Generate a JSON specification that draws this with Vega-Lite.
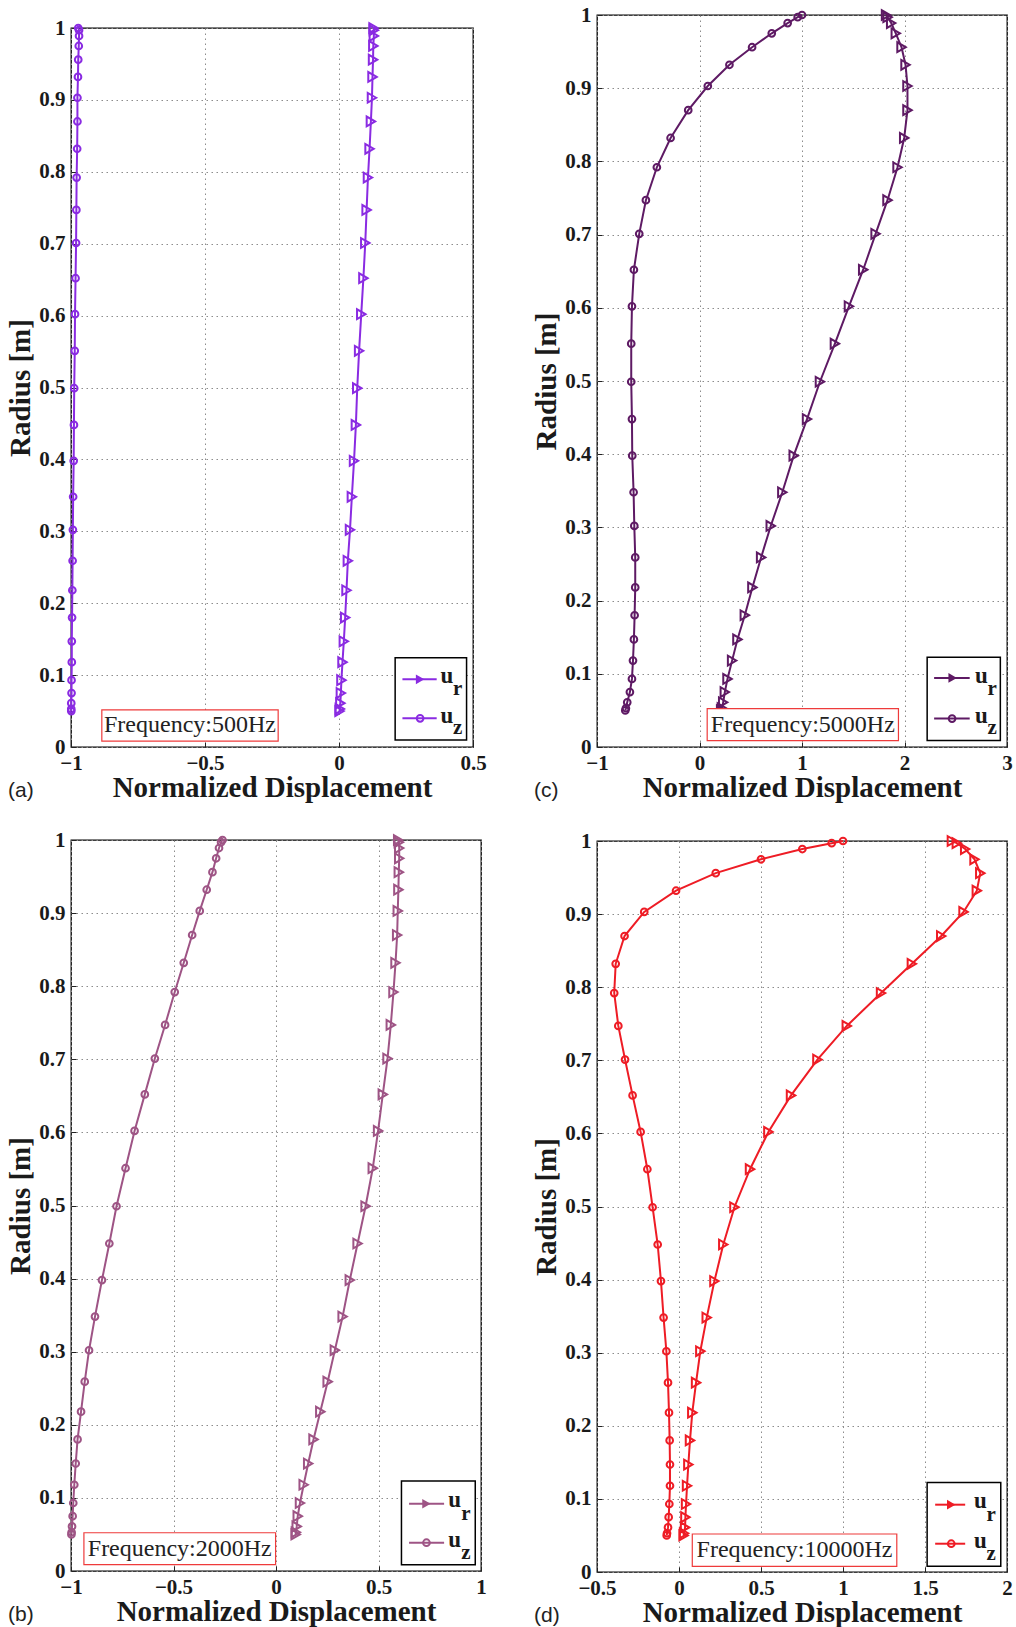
{
"$schema": "https://vega.github.io/schema/vega-lite/v6.json",
"background": "white",
"padding": {"left": 6, "top": 3, "right": 2, "bottom": 2},
"datasets": {
"f500": [
{"c":"ur","r":1,"v":0.129},{"c":"ur","r":0.997,"v":0.13},{"c":"ur","r":0.989,"v":0.13},{"c":"ur","r":0.975,"v":0.128},{"c":"ur","r":0.956,"v":0.127},{"c":"ur","r":0.932,"v":0.125},{"c":"ur","r":0.903,"v":0.123},{"c":"ur","r":0.87,"v":0.119},{"c":"ur","r":0.832,"v":0.114},{"c":"ur","r":0.792,"v":0.108},{"c":"ur","r":0.747,"v":0.103},{"c":"ur","r":0.701,"v":0.098},{"c":"ur","r":0.652,"v":0.091},{"c":"ur","r":0.602,"v":0.083},{"c":"ur","r":0.551,"v":0.075},{"c":"ur","r":0.499,"v":0.068},{"c":"ur","r":0.448,"v":0.063},{"c":"ur","r":0.398,"v":0.056},{"c":"ur","r":0.348,"v":0.048},{"c":"ur","r":0.302,"v":0.041},{"c":"ur","r":0.259,"v":0.033},{"c":"ur","r":0.218,"v":0.028},{"c":"ur","r":0.18,"v":0.023},{"c":"ur","r":0.147,"v":0.018},{"c":"ur","r":0.118,"v":0.013},{"c":"ur","r":0.093,"v":0.009},{"c":"ur","r":0.075,"v":0.007},{"c":"ur","r":0.061,"v":0.005},{"c":"ur","r":0.053,"v":0.003},{"c":"ur","r":0.05,"v":0.002},
{"c":"uz","r":1,"v":-0.973},{"c":"uz","r":0.997,"v":-0.97},{"c":"uz","r":0.989,"v":-0.97},{"c":"uz","r":0.975,"v":-0.971},{"c":"uz","r":0.956,"v":-0.973},{"c":"uz","r":0.932,"v":-0.974},{"c":"uz","r":0.903,"v":-0.976},{"c":"uz","r":0.87,"v":-0.976},{"c":"uz","r":0.832,"v":-0.977},{"c":"uz","r":0.792,"v":-0.979},{"c":"uz","r":0.747,"v":-0.98},{"c":"uz","r":0.701,"v":-0.981},{"c":"uz","r":0.652,"v":-0.983},{"c":"uz","r":0.602,"v":-0.985},{"c":"uz","r":0.551,"v":-0.986},{"c":"uz","r":0.499,"v":-0.988},{"c":"uz","r":0.448,"v":-0.989},{"c":"uz","r":0.398,"v":-0.99},{"c":"uz","r":0.348,"v":-0.992},{"c":"uz","r":0.302,"v":-0.993},{"c":"uz","r":0.259,"v":-0.994},{"c":"uz","r":0.218,"v":-0.995},{"c":"uz","r":0.18,"v":-0.996},{"c":"uz","r":0.147,"v":-0.997},{"c":"uz","r":0.118,"v":-0.997},{"c":"uz","r":0.093,"v":-0.998},{"c":"uz","r":0.075,"v":-0.998},{"c":"uz","r":0.061,"v":-0.999},{"c":"uz","r":0.053,"v":-0.999},{"c":"uz","r":0.05,"v":-0.999}
],
"f2000": [
{"c":"ur","r":1,"v":0.596},{"c":"ur","r":0.997,"v":0.599},{"c":"ur","r":0.989,"v":0.601},{"c":"ur","r":0.975,"v":0.601},{"c":"ur","r":0.956,"v":0.599},{"c":"ur","r":0.932,"v":0.597},{"c":"ur","r":0.903,"v":0.594},{"c":"ur","r":0.87,"v":0.591},{"c":"ur","r":0.832,"v":0.583},{"c":"ur","r":0.792,"v":0.573},{"c":"ur","r":0.747,"v":0.56},{"c":"ur","r":0.701,"v":0.544},{"c":"ur","r":0.652,"v":0.521},{"c":"ur","r":0.602,"v":0.498},{"c":"ur","r":0.551,"v":0.472},{"c":"ur","r":0.499,"v":0.437},{"c":"ur","r":0.448,"v":0.398},{"c":"ur","r":0.398,"v":0.36},{"c":"ur","r":0.348,"v":0.325},{"c":"ur","r":0.302,"v":0.287},{"c":"ur","r":0.259,"v":0.252},{"c":"ur","r":0.218,"v":0.216},{"c":"ur","r":0.18,"v":0.183},{"c":"ur","r":0.147,"v":0.157},{"c":"ur","r":0.118,"v":0.135},{"c":"ur","r":0.093,"v":0.117},{"c":"ur","r":0.075,"v":0.106},{"c":"ur","r":0.061,"v":0.101},{"c":"ur","r":0.053,"v":0.097},{"c":"ur","r":0.05,"v":0.096},
{"c":"uz","r":1,"v":-0.261},{"c":"uz","r":0.997,"v":-0.268},{"c":"uz","r":0.989,"v":-0.278},{"c":"uz","r":0.975,"v":-0.292},{"c":"uz","r":0.956,"v":-0.31},{"c":"uz","r":0.932,"v":-0.338},{"c":"uz","r":0.903,"v":-0.372},{"c":"uz","r":0.87,"v":-0.409},{"c":"uz","r":0.832,"v":-0.45},{"c":"uz","r":0.792,"v":-0.494},{"c":"uz","r":0.747,"v":-0.541},{"c":"uz","r":0.701,"v":-0.591},{"c":"uz","r":0.652,"v":-0.64},{"c":"uz","r":0.602,"v":-0.69},{"c":"uz","r":0.551,"v":-0.734},{"c":"uz","r":0.499,"v":-0.778},{"c":"uz","r":0.448,"v":-0.813},{"c":"uz","r":0.398,"v":-0.849},{"c":"uz","r":0.348,"v":-0.883},{"c":"uz","r":0.302,"v":-0.912},{"c":"uz","r":0.259,"v":-0.933},{"c":"uz","r":0.218,"v":-0.951},{"c":"uz","r":0.18,"v":-0.968},{"c":"uz","r":0.147,"v":-0.977},{"c":"uz","r":0.118,"v":-0.984},{"c":"uz","r":0.093,"v":-0.989},{"c":"uz","r":0.075,"v":-0.992},{"c":"uz","r":0.061,"v":-0.995},{"c":"uz","r":0.053,"v":-0.997},{"c":"uz","r":0.05,"v":-0.998}
],
"f5000": [
{"c":"ur","r":1,"v":1.82},{"c":"ur","r":0.997,"v":1.835},{"c":"ur","r":0.989,"v":1.87},{"c":"ur","r":0.975,"v":1.915},{"c":"ur","r":0.956,"v":1.971},{"c":"ur","r":0.932,"v":2.01},{"c":"ur","r":0.903,"v":2.029},{"c":"ur","r":0.87,"v":2.029},{"c":"ur","r":0.832,"v":1.997},{"c":"ur","r":0.792,"v":1.932},{"c":"ur","r":0.747,"v":1.834},{"c":"ur","r":0.701,"v":1.718},{"c":"ur","r":0.652,"v":1.597},{"c":"ur","r":0.602,"v":1.458},{"c":"ur","r":0.551,"v":1.321},{"c":"ur","r":0.499,"v":1.175},{"c":"ur","r":0.448,"v":1.049},{"c":"ur","r":0.398,"v":0.919},{"c":"ur","r":0.348,"v":0.808},{"c":"ur","r":0.302,"v":0.695},{"c":"ur","r":0.259,"v":0.601},{"c":"ur","r":0.218,"v":0.516},{"c":"ur","r":0.18,"v":0.442},{"c":"ur","r":0.147,"v":0.37},{"c":"ur","r":0.118,"v":0.318},{"c":"ur","r":0.093,"v":0.273},{"c":"ur","r":0.075,"v":0.247},{"c":"ur","r":0.061,"v":0.231},{"c":"ur","r":0.053,"v":0.218},{"c":"ur","r":0.05,"v":0.211},
{"c":"uz","r":1,"v":1},{"c":"uz","r":0.997,"v":0.958},{"c":"uz","r":0.989,"v":0.86},{"c":"uz","r":0.975,"v":0.705},{"c":"uz","r":0.956,"v":0.513},{"c":"uz","r":0.932,"v":0.292},{"c":"uz","r":0.903,"v":0.081},{"c":"uz","r":0.87,"v":-0.11},{"c":"uz","r":0.832,"v":-0.282},{"c":"uz","r":0.792,"v":-0.416},{"c":"uz","r":0.747,"v":-0.523},{"c":"uz","r":0.701,"v":-0.588},{"c":"uz","r":0.652,"v":-0.64},{"c":"uz","r":0.602,"v":-0.659},{"c":"uz","r":0.551,"v":-0.666},{"c":"uz","r":0.499,"v":-0.666},{"c":"uz","r":0.448,"v":-0.659},{"c":"uz","r":0.398,"v":-0.656},{"c":"uz","r":0.348,"v":-0.643},{"c":"uz","r":0.302,"v":-0.636},{"c":"uz","r":0.259,"v":-0.627},{"c":"uz","r":0.218,"v":-0.627},{"c":"uz","r":0.18,"v":-0.633},{"c":"uz","r":0.147,"v":-0.64},{"c":"uz","r":0.118,"v":-0.649},{"c":"uz","r":0.093,"v":-0.659},{"c":"uz","r":0.075,"v":-0.679},{"c":"uz","r":0.061,"v":-0.705},{"c":"uz","r":0.053,"v":-0.718},{"c":"uz","r":0.05,"v":-0.724}
],
"f10000": [
{"c":"ur","r":1,"v":1.664},{"c":"ur","r":0.997,"v":1.694},{"c":"ur","r":0.989,"v":1.745},{"c":"ur","r":0.975,"v":1.802},{"c":"ur","r":0.956,"v":1.837},{"c":"ur","r":0.932,"v":1.816},{"c":"ur","r":0.903,"v":1.735},{"c":"ur","r":0.87,"v":1.599},{"c":"ur","r":0.832,"v":1.42},{"c":"ur","r":0.792,"v":1.232},{"c":"ur","r":0.747,"v":1.023},{"c":"ur","r":0.701,"v":0.844},{"c":"ur","r":0.652,"v":0.683},{"c":"ur","r":0.602,"v":0.545},{"c":"ur","r":0.551,"v":0.433},{"c":"ur","r":0.499,"v":0.338},{"c":"ur","r":0.448,"v":0.27},{"c":"ur","r":0.398,"v":0.216},{"c":"ur","r":0.348,"v":0.169},{"c":"ur","r":0.302,"v":0.13},{"c":"ur","r":0.259,"v":0.104},{"c":"ur","r":0.218,"v":0.081},{"c":"ur","r":0.18,"v":0.067},{"c":"ur","r":0.147,"v":0.057},{"c":"ur","r":0.118,"v":0.049},{"c":"ur","r":0.093,"v":0.043},{"c":"ur","r":0.075,"v":0.039},{"c":"ur","r":0.061,"v":0.037},{"c":"ur","r":0.053,"v":0.031},{"c":"ur","r":0.05,"v":0.028},
{"c":"uz","r":1,"v":1},{"c":"uz","r":0.997,"v":0.931},{"c":"uz","r":0.989,"v":0.752},{"c":"uz","r":0.975,"v":0.5},{"c":"uz","r":0.956,"v":0.224},{"c":"uz","r":0.932,"v":-0.018},{"c":"uz","r":0.903,"v":-0.212},{"c":"uz","r":0.87,"v":-0.332},{"c":"uz","r":0.832,"v":-0.386},{"c":"uz","r":0.792,"v":-0.395},{"c":"uz","r":0.747,"v":-0.37},{"c":"uz","r":0.701,"v":-0.329},{"c":"uz","r":0.652,"v":-0.283},{"c":"uz","r":0.602,"v":-0.234},{"c":"uz","r":0.551,"v":-0.193},{"c":"uz","r":0.499,"v":-0.161},{"c":"uz","r":0.448,"v":-0.13},{"c":"uz","r":0.398,"v":-0.11},{"c":"uz","r":0.348,"v":-0.094},{"c":"uz","r":0.302,"v":-0.077},{"c":"uz","r":0.259,"v":-0.067},{"c":"uz","r":0.218,"v":-0.061},{"c":"uz","r":0.18,"v":-0.057},{"c":"uz","r":0.147,"v":-0.055},{"c":"uz","r":0.118,"v":-0.055},{"c":"uz","r":0.093,"v":-0.059},{"c":"uz","r":0.075,"v":-0.063},{"c":"uz","r":0.061,"v":-0.067},{"c":"uz","r":0.053,"v":-0.073},{"c":"uz","r":0.05,"v":-0.075}
]
},
"spacing": 45,
"hconcat": [
{"spacing": 0, "vconcat": [
{"width": 402, "height": 1, "view": {"stroke": null}, "data": {"values": []}, "mark": "point"},
{"spacing": 25, "vconcat": [
{
"width": 402, "height": 719,
"data": {"values": [{"freq": "Frequency:500Hz", "tag": "(a)"}]},
"layer": [
{"data": {"name": "f500"}, "mark": {"type": "line", "color": "#8a2be2", "strokeWidth": 2},
 "encoding": {
  "x": {"field": "v", "type": "quantitative", "scale": {"domain": [-1, 0.5], "nice": false, "zero": false}, "axis": {"values": [-1, -0.5, 0, 0.5], "title": "Normalized Displacement"}},
  "y": {"field": "r", "type": "quantitative", "scale": {"domain": [0, 1], "nice": false}, "axis": {"values": [0, 0.1, 0.2, 0.3, 0.4, 0.5, 0.6, 0.7, 0.8, 0.9, 1], "title": "Radius [m]"}},
  "detail": {"field": "c"},
  "order": {"field": "r", "type": "quantitative"}}},
{"data": {"name": "f500"}, "transform": [{"filter": "datum.c === 'ur'"}], "mark": {"type": "point", "shape": "triangle-right", "filled": false, "color": "#8a2be2", "strokeWidth": 2, "size": 95, "opacity": 1},
 "encoding": {"x": {"field": "v", "type": "quantitative"}, "y": {"field": "r", "type": "quantitative"}}},
{"data": {"name": "f500"}, "transform": [{"filter": "datum.c === 'uz'"}], "mark": {"type": "point", "shape": "circle", "filled": false, "color": "#8a2be2", "strokeWidth": 2, "size": 45, "opacity": 1},
 "encoding": {"x": {"field": "v", "type": "quantitative"}, "y": {"field": "r", "type": "quantitative"}}},
{"mark": {"type": "rect", "fill": "white", "stroke": "#ee3b3b", "strokeWidth": 1.2},
 "encoding": {"x": {"datum": -0.885, "type": "quantitative"}, "x2": {"datum": -0.227}, "y": {"datum": 0.0515, "type": "quantitative"}, "y2": {"datum": 0.0083}}},
{"mark": {"type": "text", "font": "Liberation Serif", "fontSize": 24, "color": "#222"},
 "encoding": {"x": {"datum": -0.556, "type": "quantitative"}, "y": {"datum": 0.03, "type": "quantitative"}, "text": {"field": "freq"}}},
{"mark": {"type": "rect", "fill": "white", "stroke": "#000", "strokeWidth": 1.5},
 "encoding": {"x": {"datum": 0.2095, "type": "quantitative"}, "x2": {"datum": 0.476}, "y": {"datum": 0.124, "type": "quantitative"}, "y2": {"datum": 0.0097}}},
{"mark": {"type": "rule", "color": "#8a2be2", "strokeWidth": 2},
 "encoding": {"x": {"datum": 0.2367, "type": "quantitative"}, "x2": {"datum": 0.3645}, "y": {"datum": 0.0942, "type": "quantitative"}}},
{"mark": {"type": "rule", "color": "#8a2be2", "strokeWidth": 2},
 "encoding": {"x": {"datum": 0.2367, "type": "quantitative"}, "x2": {"datum": 0.3645}, "y": {"datum": 0.0399, "type": "quantitative"}}},
{"mark": {"type": "point", "shape": "triangle-right", "filled": true, "color": "#8a2be2", "size": 95, "opacity": 1},
 "encoding": {"x": {"datum": 0.3026, "type": "quantitative"}, "y": {"datum": 0.0942, "type": "quantitative"}}},
{"mark": {"type": "point", "shape": "circle", "filled": false, "color": "#8a2be2", "strokeWidth": 2, "size": 45, "opacity": 1},
 "encoding": {"x": {"datum": 0.3026, "type": "quantitative"}, "y": {"datum": 0.0399, "type": "quantitative"}}},
{"mark": {"type": "text", "font": "Liberation Serif", "fontWeight": "bold", "fontSize": 23, "baseline": "alphabetic", "color": "#1a1a1a"},
 "encoding": {"x": {"datum": 0.403, "type": "quantitative"}, "y": {"datum": 0.0894, "type": "quantitative"}, "text": {"value": "u"}}},
{"mark": {"type": "text", "font": "Liberation Serif", "fontWeight": "bold", "fontSize": 23, "baseline": "alphabetic", "color": "#1a1a1a"},
 "encoding": {"x": {"datum": 0.403, "type": "quantitative"}, "y": {"datum": 0.0338, "type": "quantitative"}, "text": {"value": "u"}}},
{"mark": {"type": "text", "font": "Liberation Serif", "fontWeight": "bold", "fontSize": 21, "baseline": "alphabetic", "color": "#1a1a1a"},
 "encoding": {"x": {"datum": 0.4425, "type": "quantitative"}, "y": {"datum": 0.0723, "type": "quantitative"}, "text": {"value": "r"}}},
{"mark": {"type": "text", "font": "Liberation Serif", "fontWeight": "bold", "fontSize": 21, "baseline": "alphabetic", "color": "#1a1a1a"},
 "encoding": {"x": {"datum": 0.4425, "type": "quantitative"}, "y": {"datum": 0.0177, "type": "quantitative"}, "text": {"value": "z"}}},
{"mark": {"type": "text", "font": "Liberation Sans", "fontSize": 21, "color": "#222", "align": "left", "baseline": "middle", "dx": -63, "dy": 44},
 "encoding": {"x": {"datum": -1, "type": "quantitative"}, "y": {"datum": 0, "type": "quantitative"}, "text": {"field": "tag"}}}
]
},
{
"width": 410, "height": 731,
"data": {"values": [{"freq": "Frequency:2000Hz", "tag": "(b)"}]},
"layer": [
{"data": {"name": "f2000"}, "mark": {"type": "line", "color": "#9e5485", "strokeWidth": 2},
 "encoding": {
  "x": {"field": "v", "type": "quantitative", "scale": {"domain": [-1, 1], "nice": false, "zero": false}, "axis": {"values": [-1, -0.5, 0, 0.5, 1], "title": "Normalized Displacement"}},
  "y": {"field": "r", "type": "quantitative", "scale": {"domain": [0, 1], "nice": false}, "axis": {"values": [0, 0.1, 0.2, 0.3, 0.4, 0.5, 0.6, 0.7, 0.8, 0.9, 1], "title": "Radius [m]"}},
  "detail": {"field": "c"},
  "order": {"field": "r", "type": "quantitative"}}},
{"data": {"name": "f2000"}, "transform": [{"filter": "datum.c === 'ur'"}], "mark": {"type": "point", "shape": "triangle-right", "filled": false, "color": "#9e5485", "strokeWidth": 2, "size": 95, "opacity": 1},
 "encoding": {"x": {"field": "v", "type": "quantitative"}, "y": {"field": "r", "type": "quantitative"}}},
{"data": {"name": "f2000"}, "transform": [{"filter": "datum.c === 'uz'"}], "mark": {"type": "point", "shape": "circle", "filled": false, "color": "#9e5485", "strokeWidth": 2, "size": 45, "opacity": 1},
 "encoding": {"x": {"field": "v", "type": "quantitative"}, "y": {"field": "r", "type": "quantitative"}}},
{"mark": {"type": "rect", "fill": "white", "stroke": "#ee3b3b", "strokeWidth": 1.2},
 "encoding": {"x": {"datum": -0.937, "type": "quantitative"}, "x2": {"datum": -0.002}, "y": {"datum": 0.0523, "type": "quantitative"}, "y2": {"datum": 0.0086}}},
{"mark": {"type": "text", "font": "Liberation Serif", "fontSize": 24, "color": "#222"},
 "encoding": {"x": {"datum": -0.4695, "type": "quantitative"}, "y": {"datum": 0.0305, "type": "quantitative"}, "text": {"field": "freq"}}},
{"mark": {"type": "rect", "fill": "white", "stroke": "#000", "strokeWidth": 1.5},
 "encoding": {"x": {"datum": 0.612, "type": "quantitative"}, "x2": {"datum": 0.972}, "y": {"datum": 0.123, "type": "quantitative"}, "y2": {"datum": 0.0086}}},
{"mark": {"type": "rule", "color": "#9e5485", "strokeWidth": 2},
 "encoding": {"x": {"datum": 0.649, "type": "quantitative"}, "x2": {"datum": 0.82}, "y": {"datum": 0.092, "type": "quantitative"}}},
{"mark": {"type": "rule", "color": "#9e5485", "strokeWidth": 2},
 "encoding": {"x": {"datum": 0.649, "type": "quantitative"}, "x2": {"datum": 0.82}, "y": {"datum": 0.0387, "type": "quantitative"}}},
{"mark": {"type": "point", "shape": "triangle-right", "filled": true, "color": "#9e5485", "size": 95, "opacity": 1},
 "encoding": {"x": {"datum": 0.734, "type": "quantitative"}, "y": {"datum": 0.092, "type": "quantitative"}}},
{"mark": {"type": "point", "shape": "circle", "filled": false, "color": "#9e5485", "strokeWidth": 2, "size": 45, "opacity": 1},
 "encoding": {"x": {"datum": 0.734, "type": "quantitative"}, "y": {"datum": 0.0387, "type": "quantitative"}}},
{"mark": {"type": "text", "font": "Liberation Serif", "fontWeight": "bold", "fontSize": 23, "baseline": "alphabetic", "color": "#1a1a1a"},
 "encoding": {"x": {"datum": 0.872, "type": "quantitative"}, "y": {"datum": 0.0875, "type": "quantitative"}, "text": {"value": "u"}}},
{"mark": {"type": "text", "font": "Liberation Serif", "fontWeight": "bold", "fontSize": 23, "baseline": "alphabetic", "color": "#1a1a1a"},
 "encoding": {"x": {"datum": 0.872, "type": "quantitative"}, "y": {"datum": 0.0328, "type": "quantitative"}, "text": {"value": "u"}}},
{"mark": {"type": "text", "font": "Liberation Serif", "fontWeight": "bold", "fontSize": 21, "baseline": "alphabetic", "color": "#1a1a1a"},
 "encoding": {"x": {"datum": 0.926, "type": "quantitative"}, "y": {"datum": 0.07, "type": "quantitative"}, "text": {"value": "r"}}},
{"mark": {"type": "text", "font": "Liberation Serif", "fontWeight": "bold", "fontSize": 21, "baseline": "alphabetic", "color": "#1a1a1a"},
 "encoding": {"x": {"datum": 0.926, "type": "quantitative"}, "y": {"datum": 0.0168, "type": "quantitative"}, "text": {"value": "z"}}},
{"mark": {"type": "text", "font": "Liberation Sans", "fontSize": 21, "color": "#222", "align": "left", "baseline": "middle", "dx": -63, "dy": 44},
 "encoding": {"x": {"datum": -1, "type": "quantitative"}, "y": {"datum": 0, "type": "quantitative"}, "text": {"field": "tag"}}}
]
}
]}
]},
{"spacing": 26, "vconcat": [
{
"width": 410, "height": 732,
"data": {"values": [{"freq": "Frequency:5000Hz", "tag": "(c)"}]},
"layer": [
{"data": {"name": "f5000"}, "mark": {"type": "line", "color": "#5e1a64", "strokeWidth": 2},
 "encoding": {
  "x": {"field": "v", "type": "quantitative", "scale": {"domain": [-1, 3], "nice": false, "zero": false}, "axis": {"values": [-1, 0, 1, 2, 3], "title": "Normalized Displacement"}},
  "y": {"field": "r", "type": "quantitative", "scale": {"domain": [0, 1], "nice": false}, "axis": {"values": [0, 0.1, 0.2, 0.3, 0.4, 0.5, 0.6, 0.7, 0.8, 0.9, 1], "title": "Radius [m]"}},
  "detail": {"field": "c"},
  "order": {"field": "r", "type": "quantitative"}}},
{"data": {"name": "f5000"}, "transform": [{"filter": "datum.c === 'ur'"}], "mark": {"type": "point", "shape": "triangle-right", "filled": false, "color": "#5e1a64", "strokeWidth": 2, "size": 95, "opacity": 1},
 "encoding": {"x": {"field": "v", "type": "quantitative"}, "y": {"field": "r", "type": "quantitative"}}},
{"data": {"name": "f5000"}, "transform": [{"filter": "datum.c === 'uz'"}], "mark": {"type": "point", "shape": "circle", "filled": false, "color": "#5e1a64", "strokeWidth": 2, "size": 45, "opacity": 1},
 "encoding": {"x": {"field": "v", "type": "quantitative"}, "y": {"field": "r", "type": "quantitative"}}},
{"mark": {"type": "rect", "fill": "white", "stroke": "#ee3b3b", "strokeWidth": 1.2},
 "encoding": {"x": {"datum": 0.075, "type": "quantitative"}, "x2": {"datum": 1.941}, "y": {"datum": 0.0525, "type": "quantitative"}, "y2": {"datum": 0.0088}}},
{"mark": {"type": "text", "font": "Liberation Serif", "fontSize": 24, "color": "#222"},
 "encoding": {"x": {"datum": 1.008, "type": "quantitative"}, "y": {"datum": 0.0307, "type": "quantitative"}, "text": {"field": "freq"}}},
{"mark": {"type": "rect", "fill": "white", "stroke": "#000", "strokeWidth": 1.5},
 "encoding": {"x": {"datum": 2.221, "type": "quantitative"}, "x2": {"datum": 2.935}, "y": {"datum": 0.1226, "type": "quantitative"}, "y2": {"datum": 0.0088}}},
{"mark": {"type": "rule", "color": "#5e1a64", "strokeWidth": 2},
 "encoding": {"x": {"datum": 2.289, "type": "quantitative"}, "x2": {"datum": 2.636}, "y": {"datum": 0.0944, "type": "quantitative"}}},
{"mark": {"type": "rule", "color": "#5e1a64", "strokeWidth": 2},
 "encoding": {"x": {"datum": 2.289, "type": "quantitative"}, "x2": {"datum": 2.636}, "y": {"datum": 0.0388, "type": "quantitative"}}},
{"mark": {"type": "point", "shape": "triangle-right", "filled": true, "color": "#5e1a64", "size": 95, "opacity": 1},
 "encoding": {"x": {"datum": 2.47, "type": "quantitative"}, "y": {"datum": 0.0944, "type": "quantitative"}}},
{"mark": {"type": "point", "shape": "circle", "filled": false, "color": "#5e1a64", "strokeWidth": 2, "size": 45, "opacity": 1},
 "encoding": {"x": {"datum": 2.464, "type": "quantitative"}, "y": {"datum": 0.0388, "type": "quantitative"}}},
{"mark": {"type": "text", "font": "Liberation Serif", "fontWeight": "bold", "fontSize": 23, "baseline": "alphabetic", "color": "#1a1a1a"},
 "encoding": {"x": {"datum": 2.75, "type": "quantitative"}, "y": {"datum": 0.0875, "type": "quantitative"}, "text": {"value": "u"}}},
{"mark": {"type": "text", "font": "Liberation Serif", "fontWeight": "bold", "fontSize": 23, "baseline": "alphabetic", "color": "#1a1a1a"},
 "encoding": {"x": {"datum": 2.75, "type": "quantitative"}, "y": {"datum": 0.0328, "type": "quantitative"}, "text": {"value": "u"}}},
{"mark": {"type": "text", "font": "Liberation Serif", "fontWeight": "bold", "fontSize": 21, "baseline": "alphabetic", "color": "#1a1a1a"},
 "encoding": {"x": {"datum": 2.854, "type": "quantitative"}, "y": {"datum": 0.0717, "type": "quantitative"}, "text": {"value": "r"}}},
{"mark": {"type": "text", "font": "Liberation Serif", "fontWeight": "bold", "fontSize": 21, "baseline": "alphabetic", "color": "#1a1a1a"},
 "encoding": {"x": {"datum": 2.854, "type": "quantitative"}, "y": {"datum": 0.0178, "type": "quantitative"}, "text": {"value": "z"}}},
{"mark": {"type": "text", "font": "Liberation Sans", "fontSize": 21, "color": "#222", "align": "left", "baseline": "middle", "dx": -63, "dy": 44},
 "encoding": {"x": {"datum": -1, "type": "quantitative"}, "y": {"datum": 0, "type": "quantitative"}, "text": {"field": "tag"}}}
]
},
{
"width": 410, "height": 731,
"data": {"values": [{"freq": "Frequency:10000Hz", "tag": "(d)"}]},
"layer": [
{"data": {"name": "f10000"}, "mark": {"type": "line", "color": "#ee1c25", "strokeWidth": 2},
 "encoding": {
  "x": {"field": "v", "type": "quantitative", "scale": {"domain": [-0.5, 2], "nice": false, "zero": false}, "axis": {"values": [-0.5, 0, 0.5, 1, 1.5, 2], "title": "Normalized Displacement"}},
  "y": {"field": "r", "type": "quantitative", "scale": {"domain": [0, 1], "nice": false}, "axis": {"values": [0, 0.1, 0.2, 0.3, 0.4, 0.5, 0.6, 0.7, 0.8, 0.9, 1], "title": "Radius [m]"}},
  "detail": {"field": "c"},
  "order": {"field": "r", "type": "quantitative"}}},
{"data": {"name": "f10000"}, "transform": [{"filter": "datum.c === 'ur'"}], "mark": {"type": "point", "shape": "triangle-right", "filled": false, "color": "#ee1c25", "strokeWidth": 2, "size": 95, "opacity": 1},
 "encoding": {"x": {"field": "v", "type": "quantitative"}, "y": {"field": "r", "type": "quantitative"}}},
{"data": {"name": "f10000"}, "transform": [{"filter": "datum.c === 'uz'"}], "mark": {"type": "point", "shape": "circle", "filled": false, "color": "#ee1c25", "strokeWidth": 2, "size": 45, "opacity": 1},
 "encoding": {"x": {"field": "v", "type": "quantitative"}, "y": {"field": "r", "type": "quantitative"}}},
{"mark": {"type": "rect", "fill": "white", "stroke": "#ee3b3b", "strokeWidth": 1.2},
 "encoding": {"x": {"datum": 0.081, "type": "quantitative"}, "x2": {"datum": 1.328}, "y": {"datum": 0.052, "type": "quantitative"}, "y2": {"datum": 0.0077}}},
{"mark": {"type": "text", "font": "Liberation Serif", "fontSize": 24, "color": "#222"},
 "encoding": {"x": {"datum": 0.7045, "type": "quantitative"}, "y": {"datum": 0.03, "type": "quantitative"}, "text": {"field": "freq"}}},
{"mark": {"type": "rect", "fill": "white", "stroke": "#000", "strokeWidth": 1.5},
 "encoding": {"x": {"datum": 1.513, "type": "quantitative"}, "x2": {"datum": 1.962}, "y": {"datum": 0.1226, "type": "quantitative"}, "y2": {"datum": 0.0077}}},
{"mark": {"type": "rule", "color": "#ee1c25", "strokeWidth": 2},
 "encoding": {"x": {"datum": 1.562, "type": "quantitative"}, "x2": {"datum": 1.745}, "y": {"datum": 0.0921, "type": "quantitative"}}},
{"mark": {"type": "rule", "color": "#ee1c25", "strokeWidth": 2},
 "encoding": {"x": {"datum": 1.562, "type": "quantitative"}, "x2": {"datum": 1.745}, "y": {"datum": 0.0387, "type": "quantitative"}}},
{"mark": {"type": "point", "shape": "triangle-right", "filled": true, "color": "#ee1c25", "size": 95, "opacity": 1},
 "encoding": {"x": {"datum": 1.66, "type": "quantitative"}, "y": {"datum": 0.0921, "type": "quantitative"}}},
{"mark": {"type": "point", "shape": "circle", "filled": false, "color": "#ee1c25", "strokeWidth": 2, "size": 45, "opacity": 1},
 "encoding": {"x": {"datum": 1.66, "type": "quantitative"}, "y": {"datum": 0.0387, "type": "quantitative"}}},
{"mark": {"type": "text", "font": "Liberation Serif", "fontWeight": "bold", "fontSize": 23, "baseline": "alphabetic", "color": "#1a1a1a"},
 "encoding": {"x": {"datum": 1.838, "type": "quantitative"}, "y": {"datum": 0.0875, "type": "quantitative"}, "text": {"value": "u"}}},
{"mark": {"type": "text", "font": "Liberation Serif", "fontWeight": "bold", "fontSize": 23, "baseline": "alphabetic", "color": "#1a1a1a"},
 "encoding": {"x": {"datum": 1.838, "type": "quantitative"}, "y": {"datum": 0.0328, "type": "quantitative"}, "text": {"value": "u"}}},
{"mark": {"type": "text", "font": "Liberation Serif", "fontWeight": "bold", "fontSize": 21, "baseline": "alphabetic", "color": "#1a1a1a"},
 "encoding": {"x": {"datum": 1.904, "type": "quantitative"}, "y": {"datum": 0.07, "type": "quantitative"}, "text": {"value": "r"}}},
{"mark": {"type": "text", "font": "Liberation Serif", "fontWeight": "bold", "fontSize": 21, "baseline": "alphabetic", "color": "#1a1a1a"},
 "encoding": {"x": {"datum": 1.904, "type": "quantitative"}, "y": {"datum": 0.0168, "type": "quantitative"}, "text": {"value": "z"}}},
{"mark": {"type": "text", "font": "Liberation Sans", "fontSize": 21, "color": "#222", "align": "left", "baseline": "middle", "dx": -63, "dy": 44},
 "encoding": {"x": {"datum": -0.5, "type": "quantitative"}, "y": {"datum": 0, "type": "quantitative"}, "text": {"field": "tag"}}}
]
}
]}
],
"config": {
 "view": {"stroke": "#000", "strokeWidth": 1.3},
 "title": {"font": "Liberation Serif"},
 "axis": {"labelFont": "Liberation Serif", "labelFontSize": 21, "labelFontWeight": "bold", "labelColor": "#1a1a1a", "titleFont": "Liberation Serif", "titleFontSize": 29, "titleFontWeight": "bold", "titleColor": "#1a1a1a", "grid": true, "gridColor": "#8c8c8c", "gridDash": [1.5, 3.5], "gridWidth": 1, "domain": false, "ticks": true, "tickSize": -5, "tickColor": "#222", "tickWidth": 1, "labelFlush": false, "labelOverlap": false, "format": "~g"},
 "axisX": {"labelPadding": 10, "titlePadding": 0},
 "axisY": {"labelPadding": 11, "titlePadding": 3}
}
}
